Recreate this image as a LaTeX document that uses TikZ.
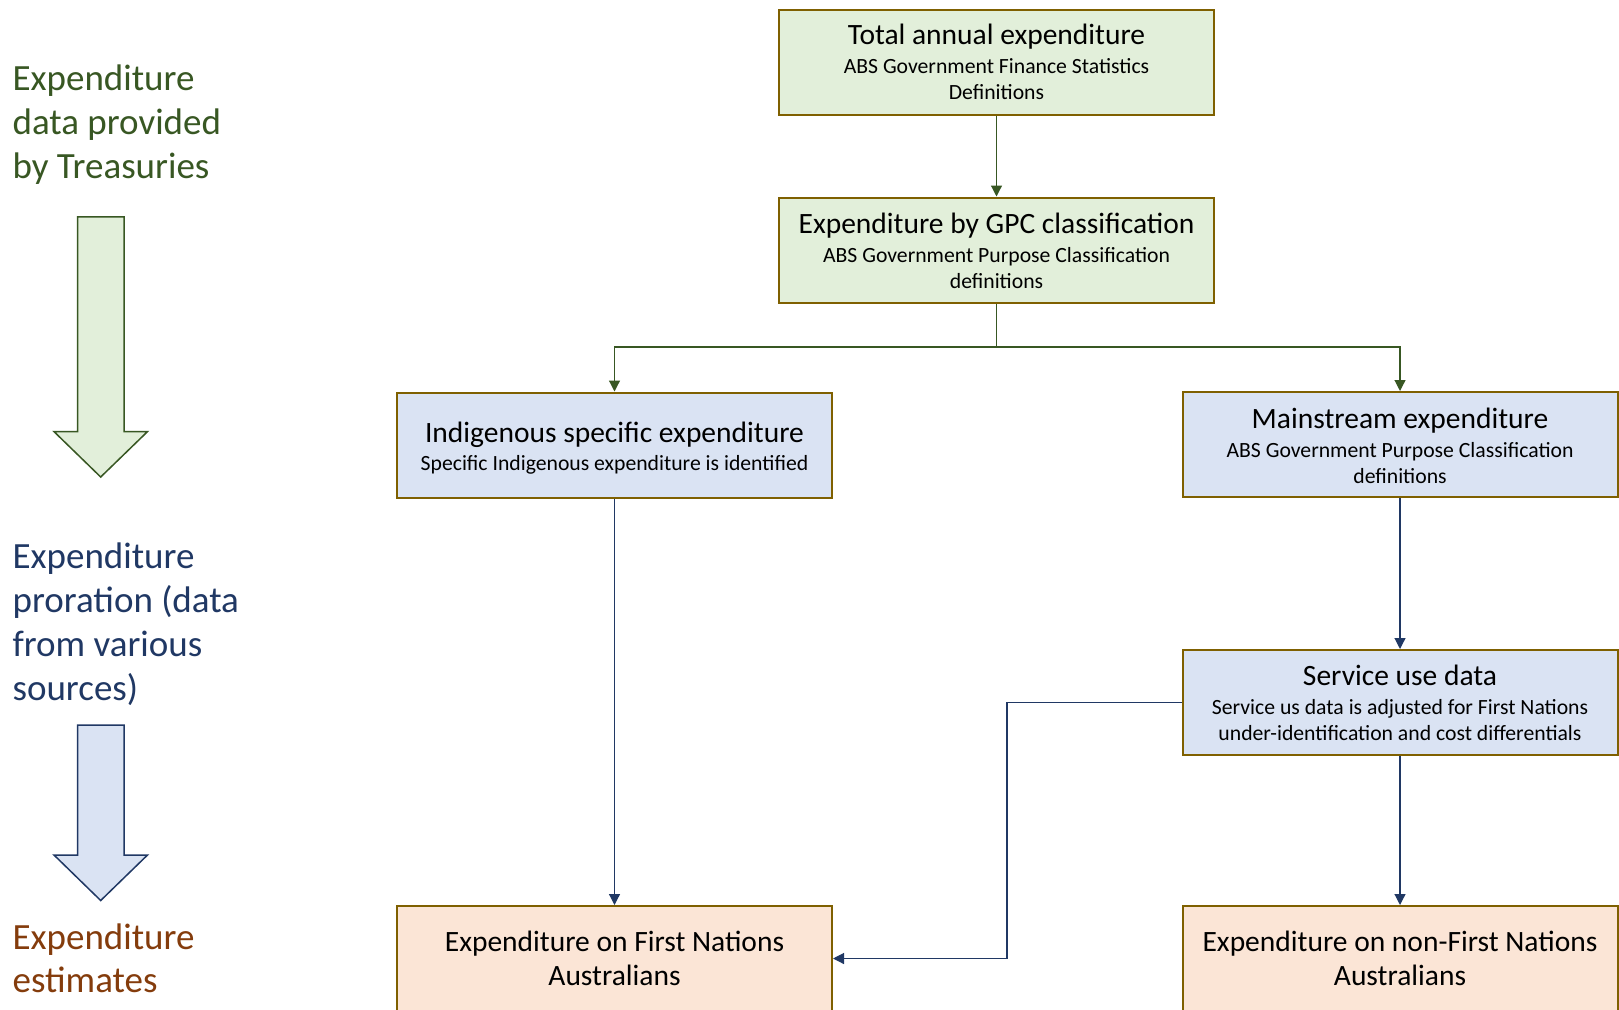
\documentclass[tikz,border=0pt]{standalone}
\usepackage{fontspec}
\setmainfont{Carlito}
\usetikzlibrary{arrows.meta,calc}
\definecolor{gfill}{HTML}{E2EFDA}
\definecolor{bfill}{HTML}{DAE3F3}
\definecolor{pfill}{HTML}{FBE5D6}
\definecolor{bord}{HTML}{7F6000}
\definecolor{gline}{HTML}{385723}
\definecolor{bline}{HTML}{203864}
\definecolor{brown}{HTML}{843C0C}
\tikzset{
  box/.style={draw=bord, line width=2pt, minimum width=435pt, minimum height=105pt, inner sep=0pt},
  gbox/.style={box, fill=gfill},
  bbox/.style={box, fill=bfill},
  pbox/.style={box, fill=pfill},
  ttl/.style={anchor=base, inner sep=0pt, font=\fontsize{29.5}{35}\selectfont},
  sub/.style={anchor=base, inner sep=0pt, font=\fontsize{21.7}{26}\selectfont},
  side/.style={anchor=base west, inner sep=0pt, font=\fontsize{37}{44}\selectfont},
  gcon/.style={draw=gline, line width=1.2pt, -{Triangle[length=11pt,width=11pt]}},
  bcon/.style={draw=bline, line width=1.2pt, -{Triangle[length=11pt,width=11pt]}},
}
\begin{document}
\begin{tikzpicture}[x=1pt,y=-1pt]
\useasboundingbox (0,0) rectangle (1619,1009);
\clip (0,0) rectangle (1619,1009);
% boxes
\node[gbox] (b1) at (996.5,62) {};
\node[gbox] (b2) at (996.5,250) {};
\node[bbox] (b3) at (614.5,445) {};
\node[bbox] (b4) at (1400,444.5) {};
\node[bbox] (b5) at (1400,702.5) {};
\node[pbox] (b6) at (614.5,958.5) {};
\node[pbox] (b7) at (1400,958.5) {};
% texts
\node[ttl] (t1) at (996.5,44.5) {Total annual expenditure};
\node[sub] (s1a) at (996.5,73) {ABS Government Finance Statistics};
\node[sub] (s1b) at (996.5,99) {Definitions};
\node[ttl] (t2) at (996.5,233.5) {Expenditure by GPC classification};
\node[sub] (s2a) at (996.5,262) {ABS Government Purpose Classification};
\node[sub] (s2b) at (996.5,288) {definitions};
\node[ttl] (t3) at (614.5,442.5) {Indigenous specific expenditure};
\node[sub] (s3a) at (614.5,470) {Specific Indigenous expenditure is identified};
\node[ttl] (t4) at (1400,428.5) {Mainstream expenditure};
\node[sub] (s4a) at (1400,457) {ABS Government Purpose Classification};
\node[sub] (s4b) at (1400,483) {definitions};
\node[ttl] (t5) at (1400,685.5) {Service use data};
\node[sub] (s5a) at (1400,714) {Service us data is adjusted for First Nations};
\node[sub] (s5b) at (1400,740) {under-identification and cost differentials};
\node[ttl] (t6a) at (614.5,951.5) {Expenditure on First Nations};
\node[ttl] (t6b) at (614.5,985.5) {Australians};
\node[ttl] (t7a) at (1400,951.5) {Expenditure on non-First Nations};
\node[ttl] (t7b) at (1400,985.5) {Australians};
% connectors
\coordinate (split) at (996.5,347);
\draw[gcon] (b1) -- (b2);
\draw[draw=gline, line width=1.2pt] (b2.south) -- (split);
\draw[gcon] (split) -| (b3.north);
\draw[gcon] (split) -| (b4.north);
\draw[bcon] (b3) -- (b6);
\draw[bcon] (b4) -- (b5);
\draw[bcon] (b5) -- (b7);
\coordinate (j) at (1007,958.5);
\draw[bcon] (b5.west) -| (j) -- (b6.east);
% side labels
\node[side, text=gline] (l1) at (12.4,90) {Expenditure};
\node[side, text=gline] (l2) at (12.4,134.5) {data provided};
\node[side, text=gline] (l3) at (12.4,178.5) {by Treasuries};
\node[side, text=bline] (l4) at (12.4,568) {Expenditure};
\node[side, text=bline] (l5) at (12.4,612.5) {proration (data};
\node[side, text=bline] (l6) at (12.4,656.5) {from various};
\node[side, text=bline] (l7) at (12.4,700.5) {sources)};
\node[side, text=brown] (l8) at (12.4,949) {Expenditure};
\node[side, text=brown] (l9) at (12.4,992.5) {estimates};
% block arrows
\draw[draw=gline, fill=gfill, line width=1.5pt, line join=miter]
  (77.5,216.8) -- (124,216.8) -- (124,431.6) -- (147.5,431.6) -- (100.7,477)
  -- (54,431.6) -- (77.5,431.6) -- cycle;
\draw[draw=bline, fill=bfill, line width=1.5pt, line join=miter]
  (77.5,725) -- (124,725) -- (124,855) -- (147.5,855) -- (100.7,900.5)
  -- (54,855) -- (77.5,855) -- cycle;
\end{tikzpicture}
\end{document}
